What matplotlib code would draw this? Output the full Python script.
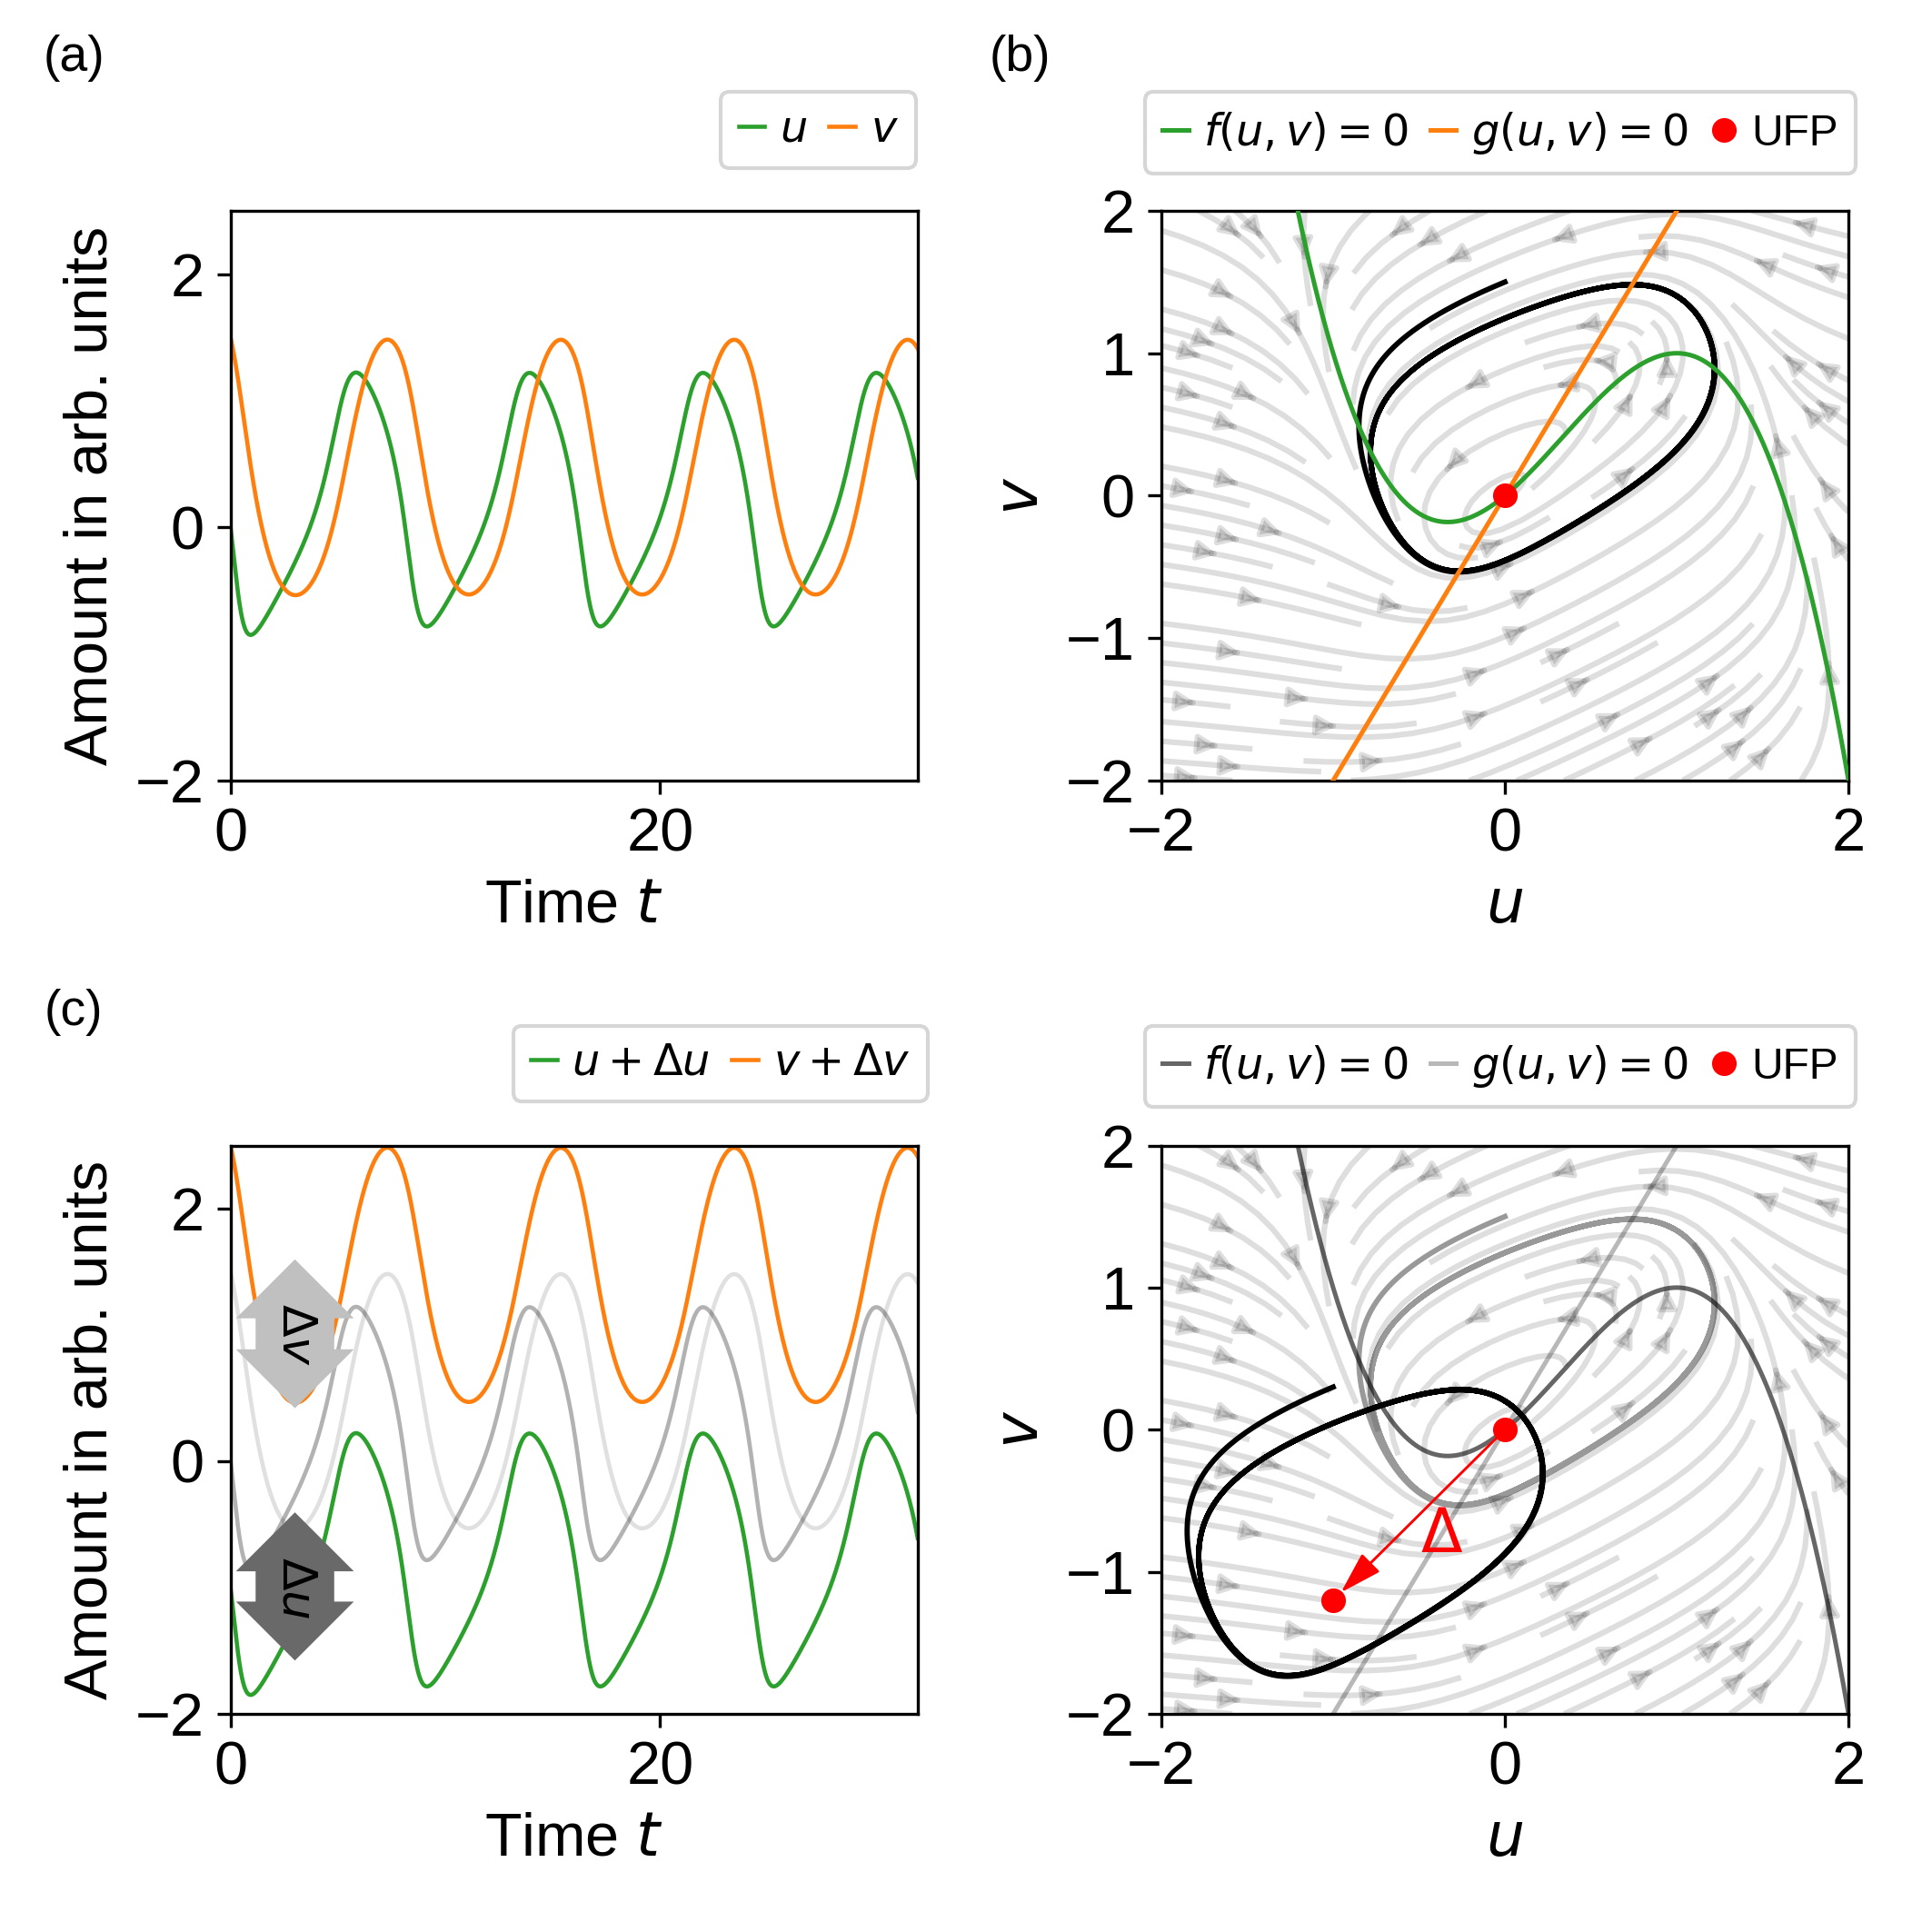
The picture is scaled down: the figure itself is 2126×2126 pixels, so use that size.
import numpy as np
import matplotlib
matplotlib.use("Agg")
import matplotlib.pyplot as plt

plt.rcParams['font.family'] = ['Liberation Sans', 'DejaVu Sans']
plt.rcParams['mathtext.fontset'] = 'dejavusans'
plt.rcParams['font.size'] = 16

# ---- data ----
f_nullcline_coeffs = [0.0, 1.0, 1.0, -1.0]   # f=0 :  v = c0 + c1 u + c2 u^2 + c3 u^3
g_nullcline_slope = 2.0                      # g=0 :  v = 2 u
rate_u = 1.0
rate_v = 0.5
start_uv = [0.0, 1.5]
t_range = [0.0, 32.0]
ufp = [0.0, 0.0]
shift_time_series = [-1.0, 1.0]     # (Δu, Δv) in panel (c)
shift_phase_plane = [-1.0, -1.2]    # displacement Δ in panel (d)
box_t = 3.0
box_levels = [1.0, -1.0]            # Δv box, Δu box
delta_label_uv = [-0.37, -0.86]


def cubic(u):
    c = f_nullcline_coeffs
    return c[0] + c[1]*u + c[2]*u**2 + c[3]*u**3


def rhs(u, v):
    return rate_u*(cubic(u) - v), rate_v*(g_nullcline_slope*u - v)


def integrate(u0, v0, t_end, dt=0.004):
    n = int(round(t_end/dt))
    uu = np.empty(n+1); vv = np.empty(n+1)
    u, v = u0, v0
    uu[0], vv[0] = u, v
    for i in range(n):
        k1 = rhs(u, v)
        k2 = rhs(u+0.5*dt*k1[0], v+0.5*dt*k1[1])
        k3 = rhs(u+0.5*dt*k2[0], v+0.5*dt*k2[1])
        k4 = rhs(u+dt*k3[0], v+dt*k3[1])
        u = u + dt/6*(k1[0]+2*k2[0]+2*k3[0]+k4[0])
        v = v + dt/6*(k1[1]+2*k2[1]+2*k3[1]+k4[1])
        uu[i+1], vv[i+1] = u, v
    return np.linspace(0, n*dt, n+1), uu, vv


t, u, v = integrate(start_uv[0], start_uv[1], t_range[1])

fig = plt.figure(figsize=(2126/300, 2126/300), dpi=300)
axa = fig.add_axes([0.1193, 0.5960, 0.3557, 0.2949])
axb = fig.add_axes([0.6011, 0.5960, 0.3557, 0.2949])
axc = fig.add_axes([0.1193, 0.1129, 0.3557, 0.2942])
axd = fig.add_axes([0.6011, 0.1129, 0.3557, 0.2942])

green = '#2ca02c'; orange = '#ff7f0e'
leg_kw = dict(fontsize=11.5, handlelength=0.6, handletextpad=0.35, columnspacing=0.5,
              borderaxespad=0.0, bbox_transform=fig.transFigure)

# (a)
axa.plot(t, u, color=green, lw=1.1, label=r'$u$')
axa.plot(t, v, color=orange, lw=1.1, label=r'$v$')
axa.set_xlim(*t_range); axa.set_ylim(-2, 2.5)
axa.set_xticks([0, 20]); axa.set_yticks([-2, 0, 2])
axa.set_xlabel(r'Time $t$'); axa.set_ylabel('Amount in arb. units')
axa.legend(ncol=2, loc='upper right', bbox_to_anchor=(0.4741, 0.9523), **leg_kw)

# phase plane helpers
ug = np.linspace(-2, 2, 120)
UG, VG = np.meshgrid(ug, ug)
DU, DV = rhs(UG, VG)
uc = np.linspace(-2, 2, 800)


def phase(ax):
    ax.streamplot(UG, VG, DU, DV, color=(0, 0, 0, 0.13), linewidth=1.5, density=1,
                  arrowsize=1, zorder=0)
    ax.set_xlim(-2, 2); ax.set_ylim(-2, 2)
    ax.set_xticks([-2, 0, 2]); ax.set_yticks([-2, -1, 0, 1, 2])
    ax.set_xlabel(r'$u$'); ax.set_ylabel(r'$v$')


# (b)
phase(axb)
axb.plot(u, v, color='k', lw=1.4, zorder=2)
axb.plot(uc, cubic(uc), color=green, lw=1.2, label=r'$f(u,v)=0$', zorder=3)
axb.plot(uc, g_nullcline_slope*uc, color=orange, lw=1.2, label=r'$g(u,v)=0$', zorder=3)
axb.plot([ufp[0]], [ufp[1]], 'o', color='red', ms=5.5, label='UFP', zorder=5)
axb.legend(ncol=3, loc='upper center', bbox_to_anchor=(0.7766, 0.9523), **leg_kw)

# (c)
axc.plot(t, u, color='k', alpha=0.3, lw=1.1)
axc.plot(t, v, color='k', alpha=0.12, lw=1.1)
axc.plot(t, u + shift_time_series[0], color=green, lw=1.1, label=r'$u+\Delta u$')
axc.plot(t, v + shift_time_series[1], color=orange, lw=1.1, label=r'$v+\Delta v$')
axc.text(box_t, box_levels[0], r'$\Delta v$', rotation=-90, ha='center', va='center', fontsize=12.5,
         bbox=dict(boxstyle='darrow,pad=0.36', fc='silver', ec='none'), zorder=6)
axc.text(box_t, box_levels[1], r'$\Delta u$', rotation=-90, ha='center', va='center', fontsize=12.5,
         bbox=dict(boxstyle='darrow,pad=0.36', fc='dimgray', ec='none'), zorder=6)
axc.set_xlim(*t_range); axc.set_ylim(-2, 2.5)
axc.set_xticks([0, 20]); axc.set_yticks([-2, 0, 2])
axc.set_xlabel(r'Time $t$'); axc.set_ylabel('Amount in arb. units')
axc.legend(ncol=2, loc='upper right', bbox_to_anchor=(0.4802, 0.4691), **leg_kw)

# (d)
phase(axd)
axd.plot(u, v, color='k', alpha=0.4, lw=1.4, zorder=2)
axd.plot(u + shift_phase_plane[0], v + shift_phase_plane[1], color='k', lw=1.4, zorder=2)
axd.plot(uc, cubic(uc), color='k', alpha=0.6, lw=1.2, label=r'$f(u,v)=0$', zorder=3)
axd.plot(uc, g_nullcline_slope*uc, color='k', alpha=0.28, lw=1.2, label=r'$g(u,v)=0$', zorder=3)
axd.plot([ufp[0]], [ufp[1]], 'o', color='red', ms=5.5, label='UFP', zorder=5)
axd.plot([ufp[0]+shift_phase_plane[0]], [ufp[1]+shift_phase_plane[1]], 'o', color='red', ms=5.5, zorder=5)
axd.annotate('', xy=(ufp[0]+shift_phase_plane[0], ufp[1]+shift_phase_plane[1]), xytext=(ufp[0], ufp[1]),
             arrowprops=dict(arrowstyle='-|>,head_length=0.8,head_width=0.24', mutation_scale=12,
                             color='red', lw=0.7, shrinkA=0, shrinkB=2.9), zorder=4)
axd.text(delta_label_uv[0], delta_label_uv[1], r'$\Delta$', color='red', fontsize=16,
         ha='center', va='baseline', zorder=4)
axd.legend(ncol=3, loc='upper center', bbox_to_anchor=(0.7766, 0.4691), **leg_kw)

fig.text(0.0381, 0.9699, '(a)', fontsize=13.3, ha='center', va='center')
fig.text(0.5277, 0.9699, '(b)', fontsize=13.3, ha='center', va='center')
fig.text(0.0381, 0.4762, '(c)', fontsize=13.3, ha='center', va='center')

fig.savefig('out.png', dpi=300)
